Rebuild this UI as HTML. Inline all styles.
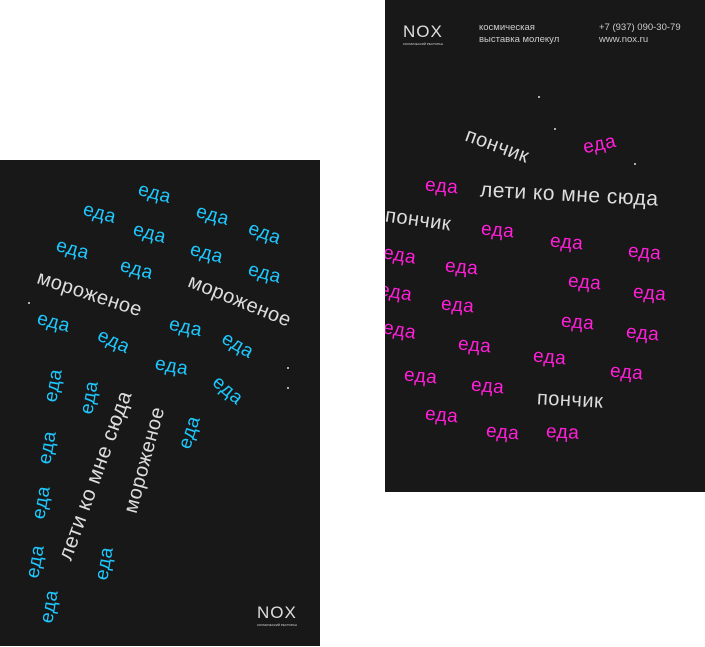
<!DOCTYPE html>
<html><head><meta charset="utf-8">
<style>
body{margin:0;width:705px;height:647px;background:#fff;position:relative;overflow:hidden;font-family:"Liberation Sans","Noto Sans CJK SC",sans-serif}
.poster{position:absolute;background:#181818;overflow:hidden}
.w{position:absolute;white-space:nowrap;transform-origin:center center;line-height:1;letter-spacing:0.5px}
.dot{position:absolute;width:2px;height:2px;background:#ddd;border-radius:1px}
.logo{position:absolute;color:#ddd;font-size:17px;letter-spacing:1px}
.logo small{display:block;font-size:3px;letter-spacing:0}
.info{position:absolute;color:#ccc;font-size:9.5px;line-height:12px}
</style></head><body>
<div class="poster" id="left" style="left:0;top:160px;width:320px;height:486px">
  <div class="logo" style="left:257px;top:443px">NOX<small>КОСМИЧЕСКИЙ РЕСТОРАН</small></div>
</div>
<div class="poster" id="right" style="left:385px;top:0;width:320px;height:492px">
  <div class="logo" style="left:18px;top:22px">NOX<small>КОСМИЧЕСКИЙ РЕСТОРАН</small></div>
  <div class="info" style="left:94px;top:22px">космическая<br>выставка молекул</div>
  <div class="info" style="left:214px;top:22px">+7 (937) 090-30-79<br>www.nox.ru</div>
</div>
<script>
const leftWords=[["еда",155,193,15],["еда",100,213,15],["еда",213,215,15],["еда",265,233,20],["еда",150,233,15],["еда",73,249,15],["еда",207,253,15],["еда",137,269,15],["еда",265,273,15],["мороженое",90,294,18],["мороженое",240,301,22],["еда",54,322,15],["еда",114,341,25],["еда",186,327,12],["еда",238,345,30],["еда",172,366,10],["еда",228,390,40],["еда",54,385,-80],["еда",90,397,-80],["лети ко мне сюда",95,475,-70],["мороженое",145,460,-75],["еда",190,432,-72],["еда",48,447,-80],["еда",42,502,-80],["еда",36,561,-80],["еда",105,563,-80],["еда",50,606,-80]];
const rightWords=[["пончик",497,146,20],["еда",600,144,-12],["еда",442,186,5],["лети ко мне сюда",569,194,3],["пончик",418,220,8],["еда",498,230,5],["еда",567,242,5],["еда",645,252,5],["еда",400,255,10],["еда",462,267,5],["еда",585,282,5],["еда",396,292,10],["еда",650,293,5],["еда",458,305,5],["еда",578,322,5],["еда",400,330,10],["еда",643,333,5],["еда",475,345,5],["еда",550,357,5],["еда",421,376,5],["еда",488,386,5],["еда",627,372,5],["пончик",570,400,3],["еда",442,415,5],["еда",503,432,5],["еда",563,432,3]];
const leftDots=[[29,303],[288,368],[288,388]];
const rightDots=[[539,97],[555,129],[635,164]];
function put(parent,ox,oy,list,accent){
  list.forEach(w=>{
    const s=document.createElement('span');
    s.className='w';
    s.textContent=w[0];
    const isEda=w[0]==='еда';
    
    
    s.style.color=isEda?accent:'#ddd';
    s.style.fontSize=(isEda?19:(w[0].length>10?21:20))+'px';
    parent.appendChild(s);
    const r=s.getBoundingClientRect();
    s.style.left=(w[1]-ox-r.width/2)+'px';
    s.style.top=(w[2]-oy-r.height/2)+'px';
    s.style.transform='rotate('+w[3]+'deg)';
  });
}
function dots(parent,ox,oy,list){
  list.forEach(d=>{
    const e=document.createElement('div');
    e.className='dot';
    
    
    e.style.left=(d[0]-ox-1)+'px';e.style.top=(d[1]-oy-1)+'px';
    parent.appendChild(e);
  });
}
const L=document.getElementById('left'),R=document.getElementById('right');
put(L,0,160,leftWords,'#1ec8ff');
put(R,385,0,rightWords,'#ff1fd8');
dots(L,0,160,leftDots);
dots(R,385,0,rightDots);
</script>
</body></html>
